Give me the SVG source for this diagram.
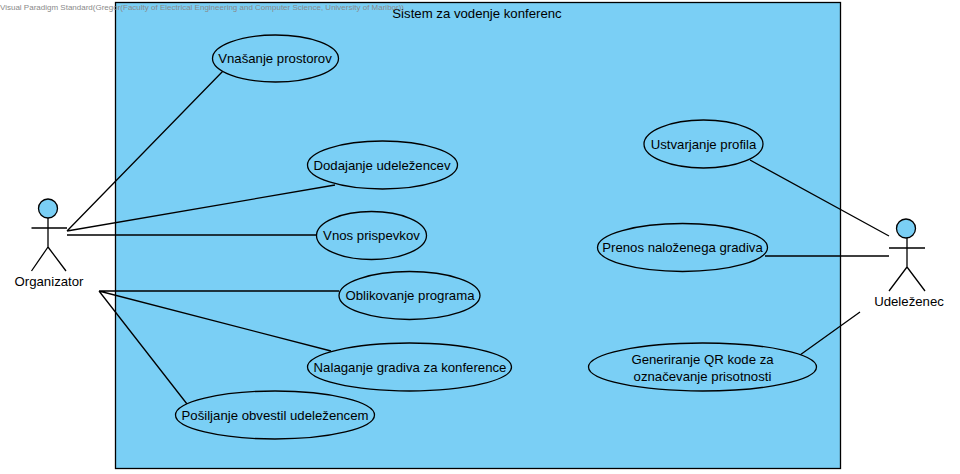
<svg xmlns="http://www.w3.org/2000/svg" width="960" height="474" viewBox="0 0 960 474">
<style>
text{font-family:"Liberation Sans",Arial,sans-serif;font-size:13.2px;fill:#000;text-anchor:middle}
.n{fill:#7acff5;stroke:#000;stroke-width:1.3}
.l{fill:none;stroke:#000;stroke-width:1.3}
text.w{font-size:8px;fill:#8a8a8a;text-anchor:start}
</style>
<rect width="960" height="474" fill="#fff"/>
<g id="system"><rect class="n" x="115.500" y="2.500" width="725" height="466"/><text x="477" y="18">Sistem za vodenje konferenc</text></g>
<text class="w" x="0" y="10">Visual Paradigm Standard(Gregor(Faculty of Electrical Engineering and Computer Science, University of Maribor))</text>
<g id="connectors" class="l">
<path class="l" d="M67 231L223 71M67 231L335 185M67 235H316M99 291H339M99 291L331 351M99 291L187 404M750 160L889 236M765 256H889M800 355L860 312"/>
</g>
<g id="organizator"><circle class="n" cx="48" cy="208.500" r="9.500"/><path class="l" d="M48 218V247M31.500 228H67M48 247L31.500 271M48 247L66 271"/><text x="49" y="286">Organizator</text></g>
<g id="udelezenec"><circle class="n" cx="906" cy="228.500" r="9.500"/><path class="l" d="M907 238V267M889 248H925M907 267L889 291M907 267L925 291"/><text x="909" y="306">Udeleženec</text></g>
<g id="uc1"><ellipse class="n" cx="275.500" cy="58.500" rx="63" ry="23.500"/><text x="275" y="63">Vnašanje prostorov</text></g>
<g id="uc2"><ellipse class="n" cx="382.500" cy="165" rx="75" ry="24"/><text x="382" y="170">Dodajanje udeležencev</text></g>
<g id="uc3"><ellipse class="n" cx="371.500" cy="235.500" rx="55" ry="24"/><text x="371.500" y="240">Vnos prispevkov</text></g>
<g id="uc4"><ellipse class="n" cx="409.500" cy="295.500" rx="70.500" ry="24"/><text x="410" y="300">Oblikovanje programa</text></g>
<g id="uc5"><ellipse class="n" cx="409.500" cy="367" rx="102" ry="24"/><text x="410" y="372">Nalaganje gradiva za konference</text></g>
<g id="uc6"><ellipse class="n" cx="275" cy="415" rx="99.500" ry="24"/><text x="275" y="420">Pošiljanje obvestil udeležencem</text></g>
<g id="uc7"><ellipse class="n" cx="703.500" cy="144" rx="59.500" ry="24"/><text x="703.500" y="149">Ustvarjanje profila</text></g>
<g id="uc8"><ellipse class="n" cx="682.500" cy="247.500" rx="85" ry="24"/><text x="682.500" y="252">Prenos naloženega gradiva</text></g>
<g id="uc9"><ellipse class="n" cx="702.500" cy="367" rx="114" ry="24"/><text x="702.500" y="364">Generiranje QR kode za</text><text x="702.500" y="381">označevanje prisotnosti</text></g>
</svg>
